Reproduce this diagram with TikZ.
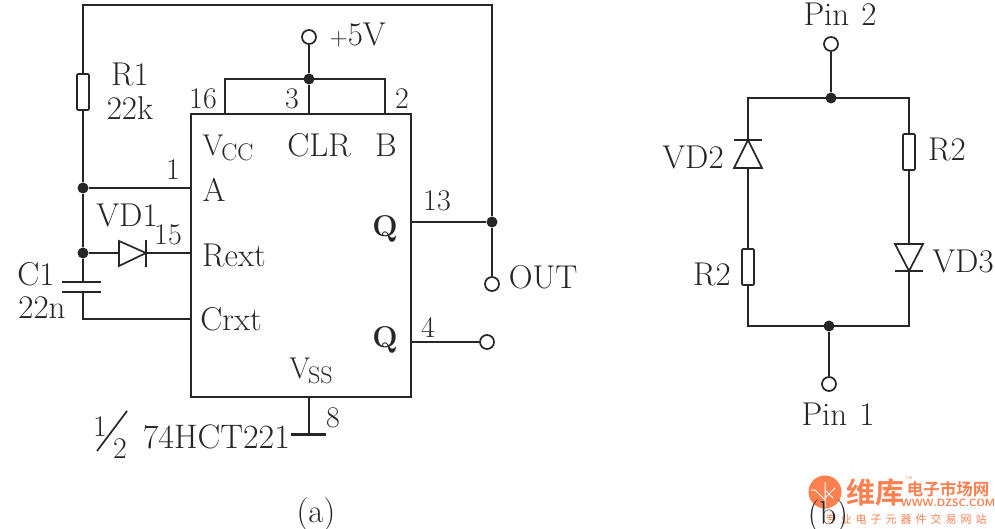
\documentclass[tikz,border=0pt]{standalone}
\usepackage{fontspec}
\newfontfamily\cjk{Noto Sans CJK SC}[BoldFont={Noto Sans CJK SC Bold}]
\colorlet{ink}{black!85}
\definecolor{mark}{RGB}{252,128,80}
\tikzset{
  lab/.style={inner sep=0pt,text=ink,font=\fontsize{33}{33}\selectfont},
  num/.style={inner sep=0pt,text=ink,font=\fontsize{30}{30}\selectfont},
  dot/.style={circle,fill=ink,inner sep=0pt,minimum size=11pt},
  term/.style={circle,draw=ink,line width=1.7pt,fill=white,inner sep=0pt,minimum size=14pt},
  res/.style={rectangle,rounded corners=1pt,draw=ink,line width=1.7pt,fill=white,inner sep=0pt,minimum width=12pt,minimum height=36pt},
  wm/.style={inner sep=0pt,text=mark},
}
\begin{document}
\begin{tikzpicture}[x=1pt,y=-1pt,line width=1.7pt,draw=ink]
  \useasboundingbox (0,0) rectangle (995,529);
  % part a
  \node (chip) [rectangle,draw=ink,line width=1.7pt,minimum width=220pt,minimum height=283pt,inner sep=0pt] at (301,255.5) {};
  \node (r1) [res] at (83,92) {};
  \node (j1) [dot] at (83,188) {};
  \node (j2) [dot] at (83,253) {};
  \node (j3) [dot] at (309,79) {};
  \node (j4) [dot] at (492,222) {};
  \node (vcc) [term] at (309,37) {};
  \node (out) [term] at (492,284) {};
  \node (qn) [term] at (487,342) {};
  \coordinate (tl) at (83,5);
  \coordinate (tr) at (492,5);
  \coordinate (p16) at (225,79);
  \coordinate (p2) at (385,79);
  \coordinate (c1a) at (83,282);
  \coordinate (c1b) at (83,292);
  \coordinate (c1c) at (83,319);
  \coordinate (a1) at (119,253);
  \coordinate (k1) at (146,253);
  \coordinate (gnd) at (309,434);
  \draw (r1) -- (tl) -- (tr) -- (j4) -- (out);
  \draw (r1) -- (j1) -- (j2) -- (c1a);
  \draw (c1b) -- (c1c) -- (c1c -| chip.west);
  \draw (j1) -- (j1 -| chip.west);
  \draw (j2) -- (a1);
  \draw (k1) -- (k1 -| chip.west);
  \draw (p16 |- chip.north) -- (p16) -- (p2) -- (p2 |- chip.north);
  \draw (vcc) -- (j3) -- (j3 |- chip.north);
  \draw (j4) -- (j4 -| chip.east);
  \draw (qn) -- (qn -| chip.east);
  \draw (gnd |- chip.south) -- (gnd);
  \draw [line width=3pt] (291,434) -- (326,434);
  \draw (62,282) -- (101,282) (62,292) -- (101,292);
  \draw (a1) ++(0,-12) -- ++(0,25) -- (k1) -- cycle;
  \draw (146,240) -- (146,267);
  \node [lab] at (130,74) {R1};
  \node [lab] at (130,108) {22k};
  \node [num] at (203,99) {16};
  \node [num] at (292,99) {3};
  \node [num] at (402,99) {2};
  \node [num] at (173,170) {1};
  \node [lab] at (127,215) {VD1};
  \node [num] at (168,235) {15};
  \node [lab] at (36,274) {C1};
  \node [lab] at (42,308) {22n};
  \node [lab] at (228,148) {\fontsize{30}{30}\selectfont V\kern-2pt\raisebox{-5pt}{\fontsize{24}{24}\selectfont CC}};
  \node [lab] at (319,145) {CLR};
  \node [lab] at (386,145) {B};
  \node [lab] at (214,190) {A};
  \node [lab] at (234,255) {Rext};
  \node [lab] at (231,319) {Crxt};
  \node [lab,font=\fontsize{30}{30}\selectfont\bfseries] at (385,229) {Q};
  \node [lab,font=\fontsize{30}{30}\selectfont\bfseries] at (385,340) {Q};
  \node [lab] at (311,371) {\fontsize{30}{30}\selectfont V\kern-2pt\raisebox{-5pt}{\fontsize{24}{24}\selectfont SS}};
  \node [num] at (437,201) {13};
  \node [num] at (428,327) {4};
  \node [lab,anchor=west] at (508,277) {OUT};
  \node [lab,anchor=west] at (329,35) {$+$5V};
  \node [num] at (333,418) {8};
  \node [num] at (100,427) {1};
  \draw (97,451) -- (127,411);
  \node [num] at (120,449) {2};
  \node [lab,anchor=west,font=\fontsize{34}{34}\selectfont] at (142,437) {74HCT221};
  \node [lab] at (316,514) {(a)};
  % part b
  \node (jt) [dot] at (831,98) {};
  \node (jb) [dot] at (829,326) {};
  \node (pin2) [term] at (831,44) {};
  \node (pin1) [term] at (829,384) {};
  \node (r2r) [res] at (909,152) {};
  \node (r2l) [res] at (748,267) {};
  \coordinate (lt) at (748,98);
  \coordinate (rt) at (909,98);
  \coordinate (lb) at (748,326);
  \coordinate (rb) at (909,326);
  \coordinate (k2) at (748,140);
  \coordinate (a2) at (748,168);
  \coordinate (a3) at (909,244);
  \coordinate (k3) at (909,271);
  \draw (pin2) -- (jt);
  \draw (pin1) -- (jb);
  \draw (k2) -- (lt) -- (rt) -- (r2r) -- (a3);
  \draw (a2) -- (r2l) -- (lb) -- (rb) -- (k3);
  \draw (a2) ++(-14,0) -- ++(28,0) -- (k2) -- cycle;
  \draw (734,140) -- (762,140);
  \draw (a3) ++(-14,0) -- ++(28,0) -- (k3) -- cycle;
  \draw (895,271) -- (923,271);
  \node [lab] at (840,14) {Pin\hspace{12pt}2};
  \node [lab] at (838,414) {Pin\hspace{12pt}1};
  \node [lab] at (693,157) {VD2};
  \node [lab] at (947,149) {R2};
  \node [lab] at (963,261) {VD3};
  \node [lab] at (712,274) {R2};
  % watermark
  \node (logo) [circle,fill=mark,inner sep=0pt,minimum size=33pt] at (825,492) {};
  \draw [white,line width=1pt] (825,507) -- (825,482) (825,500) -- (815,490) -- (811,490) (825,498) -- (835,488) (825,490) -- (833,498);
  \node [wm,font=\cjk\bfseries\fontsize{29}{29}\selectfont] at (875,492) {维库};
  \node [wm,font=\cjk\bfseries\fontsize{16.5}{16.5}\selectfont] at (948,489) {电子市场网};
  \node [wm,font=\sffamily\bfseries\fontsize{10.5}{10.5}\selectfont] at (948,503) {WWW.DZSC.COM};
  \node [wm,font=\sffamily\fontsize{4}{4}\selectfont] at (909,478) {TM};
  \node [wm,font=\cjk\fontsize{11}{11}\selectfont] at (906,519) {专\hspace{4pt}业\hspace{4pt}电\hspace{4pt}子\hspace{4pt}元\hspace{4pt}器\hspace{4pt}件\hspace{4pt}交\hspace{4pt}易\hspace{4pt}网\hspace{4pt}站};
  \node [lab] at (828,516) {(b)};
\end{tikzpicture}
\end{document}
